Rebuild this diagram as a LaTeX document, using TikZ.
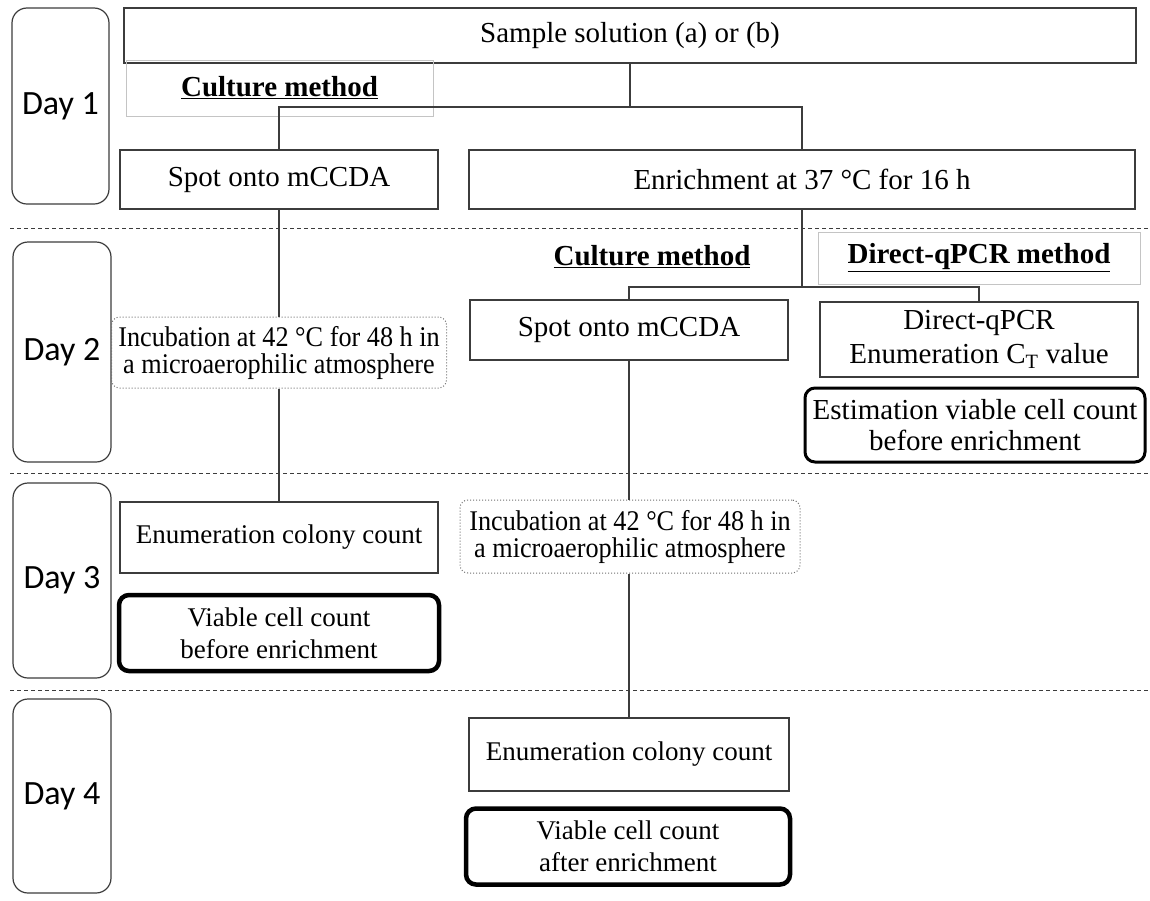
\documentclass[tikz,border=0pt]{standalone}
\usepackage{fontspec}
\setmainfont{Liberation Serif}
\newfontfamily\dayfont{Carlito}
\newfontfamily\narrowserif[FakeStretch=0.92]{Liberation Serif}
\usepackage{tikz}
\definecolor{framegray}{HTML}{C4C4C4}
\definecolor{dotgray}{HTML}{6E6E6E}
\definecolor{linegray}{HTML}{3C3C3C}
\lineskiplimit=-100pt

\tikzset{
  daybox/.style={draw=linegray,line width=1.2pt,rounded corners=15pt,inner sep=0pt,
    font=\dayfont\fontsize{34}{38}\selectfont},
  stepbox/.style={draw=linegray,line width=1.3pt,inner sep=0pt,align=center,
    font=\fontsize{29}{32}\selectfont},
  incubox/.style={draw=dotgray,dotted,line width=1pt,rounded corners=8pt,inner sep=0pt,align=center,
    font=\narrowserif\fontsize{28.5}{27}\selectfont},
  resultbox/.style={draw=black,line width=4.5pt,rounded corners=10pt,inner sep=0pt,align=center},
  headbox/.style={draw=framegray,line width=0.8pt,inner sep=0pt,
    font=\fontsize{29}{32}\selectfont\bfseries},
  link/.style={draw=linegray,line width=1.3pt},
  daysep/.style={draw=linegray,line width=1pt,dash pattern=on 4pt off 3pt}
}

\begin{document}
\begin{tikzpicture}[x=1pt,y=-1pt]
\useasboundingbox (0,0) rectangle (1150,900);

% day labels
\node[daybox,minimum width=97pt,minimum height=196pt] (day1) at (60.5,106) {Day 1};
\node[daybox,minimum width=98pt,minimum height=220pt] (day2) at (62,352) {Day 2};
\node[daybox,minimum width=98pt,minimum height=195pt] (day3) at (62,580.5) {Day 3};
\node[daybox,minimum width=98pt,minimum height=194pt] (day4) at (62,796) {Day 4};

% day separators
\draw[daysep] (10,228) -- (1150,228);
\draw[daysep] (10,473) -- (1150,473);
\draw[daysep] (10,690) -- (1150,690);

% day 1
\node[stepbox,minimum width=1012pt,minimum height=55pt] (sample) at (630,35.5) {Sample solution (a) or (b)};
\node[headbox,minimum width=307pt,minimum height=56pt] (cultA) at (279.5,88) {\underline{Culture method}};
\node[stepbox,minimum width=318pt,minimum height=59pt] (spotA) at (279,179.5) {Spot onto mCCDA};
\node[stepbox,minimum width=666pt,minimum height=59pt] (enrich) at (802,179.5) {Enrichment at 37 °C for 16 h};

% day 2
\node[incubox,minimum width=335pt,minimum height=71pt] (incA) at (279,352.5) {Incubation at 42 °C for 48 h in\\a microaerophilic atmosphere};
\node[font=\fontsize{29}{32}\selectfont\bfseries] (cultB) at (652,257) {\underline{Culture method}};
\node[headbox,minimum width=322pt,minimum height=52pt] (qpcrhead) at (979,258) {\underline{Direct-qPCR method}};
\node[stepbox,minimum width=318pt,minimum height=60pt] (spotB) at (629,330) {Spot onto mCCDA};
\node[stepbox,minimum width=318pt,minimum height=75pt,font=\fontsize{29}{34}\selectfont] (qpcr) at (979,339.5) {Direct-qPCR\\Enumeration C\textsubscript{T} value};
\node[resultbox,line width=3pt,minimum width=340pt,minimum height=74pt,font=\fontsize{29}{31}\selectfont] (estim) at (975,425) {Estimation viable cell count\\before enrichment};

% day 3
\node[stepbox,minimum width=318pt,minimum height=71pt,font=\fontsize{27}{30}\selectfont] (enumA) at (279,537.5) {Enumeration colony count};
\node[resultbox,minimum width=320pt,minimum height=76pt,font=\fontsize{27}{32}\selectfont] (viabA) at (279,633) {Viable cell count\\before enrichment};
\node[incubox,minimum width=340pt,minimum height=73pt] (incB) at (630,536.5) {Incubation at 42 °C for 48 h in\\a microaerophilic atmosphere};

% day 4
\node[stepbox,minimum width=320pt,minimum height=73pt,font=\fontsize{27}{30}\selectfont] (enumB) at (629,754.5) {Enumeration colony count};
\node[resultbox,minimum width=324pt,minimum height=76pt,font=\fontsize{27}{32}\selectfont] (viabB) at (628,846.5) {Viable cell count\\after enrichment};

% connectors
\coordinate (split) at (630,107);
\coordinate (branch) at (802,287);
\draw[link] (sample.south) -- (split);
\draw[link] (spotA.north) |- (split) -| (enrich.north);
\draw[link] (spotA.south) -- (incA.north);
\draw[link] (incA.south) -- (enumA.north);
\draw[link] (enrich.south) -- (branch);
\draw[link] (spotB.north) |- (branch) -| (qpcr.north);
\draw[link] (spotB.south) -- (spotB.south |- incB.north);
\draw[link] (incB.south -| enumB.north) -- (enumB.north);
\end{tikzpicture}
\end{document}
